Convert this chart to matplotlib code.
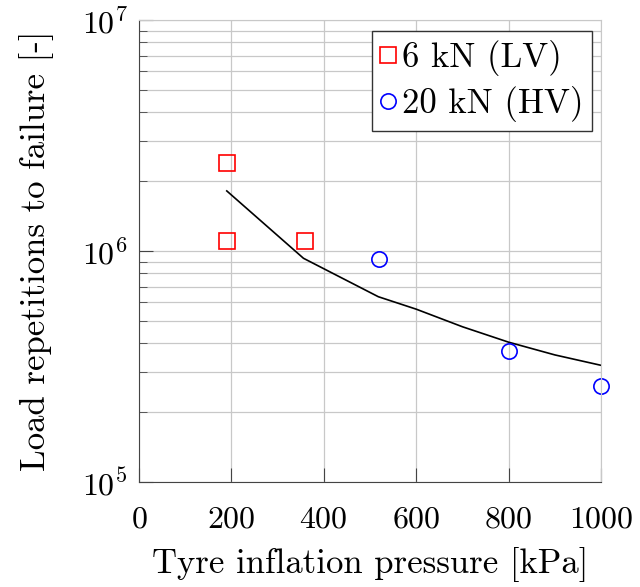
import matplotlib
matplotlib.use('Agg')
import matplotlib.pyplot as plt
from matplotlib.ticker import LogLocator, NullFormatter

plt.rcParams['font.family'] = 'cmr10'
plt.rcParams['mathtext.fontset'] = 'cm'
plt.rcParams['axes.formatter.use_mathtext'] = True

# data
lv_pressure = [190, 190, 360]
lv_reps = [2.4e6, 1.10e6, 1.10e6]
hv_pressure = [520, 800, 1000]
hv_reps = [9.2e5, 3.7e5, 2.6e5]
fit_pressure = [190, 356, 518, 600, 700, 800, 900, 1000]
fit_reps = [1.82e6, 9.3e5, 6.34e5, 5.6e5, 4.7e5, 4.03e5, 3.55e5, 3.2e5]

tsize = 23
lsize = 25

fig = plt.figure(figsize=(6.4, 5.87), dpi=100)
ax = fig.add_axes([139/640, 1-482/587, 462/640, 462/587])

ax.plot(fit_pressure, fit_reps, 'k', linewidth=1.2)
ax.plot(lv_pressure, lv_reps, 's', mfc='none', mec='red', ms=11, mew=1.2,
        linestyle='none', label='6 kN (LV)', clip_on=False)
ax.plot(hv_pressure, hv_reps, 'o', mfc='none', mec='blue', ms=11, mew=1.2,
        linestyle='none', label='20 kN (HV)', clip_on=False)

ax.set_yscale('log')
ax.set_xlim(0, 1000)
ax.set_ylim(1e5, 1e7)
ax.set_xticks([0, 200, 400, 600, 800, 1000])
ax.yaxis.set_major_locator(LogLocator(base=10, numticks=10))
ax.yaxis.set_minor_locator(LogLocator(base=10, subs=range(2, 10), numticks=20))
ax.yaxis.set_minor_formatter(NullFormatter())

ax.grid(True, which='major', color='#c8c8c8', linewidth=0.9)
ax.grid(True, which='minor', axis='y', color='#c8c8c8', linewidth=0.9)
ax.set_axisbelow(True)

ax.tick_params(axis='both', which='both', direction='in', labelsize=tsize,
               top=False, right=False, colors='#444444', labelcolor='black')
ax.tick_params(axis='y', which='major', length=10, pad=8)
ax.tick_params(axis='y', which='minor', length=6)
ax.tick_params(axis='x', which='major', length=10, pad=17)
for s in ax.spines.values():
    s.set_color('#444444')
ax.spines['top'].set_color('#c8c8c8')
ax.spines['right'].set_color('#c8c8c8')

ax.set_xlabel('Tyre inflation pressure [kPa]', fontsize=lsize, labelpad=10)
ax.set_ylabel('Load repetitions to failure [-]', fontsize=lsize, labelpad=20)

leg = ax.legend(loc='upper right', fontsize=lsize, fancybox=False,
                edgecolor='#333333', framealpha=1, handlelength=0.4,
                handletextpad=0.2, borderpad=0.25, labelspacing=0.3,
                borderaxespad=0, bbox_to_anchor=(0.98, 0.976))
leg.get_frame().set_linewidth(1.0)

fig.savefig('out.png', dpi=100)
